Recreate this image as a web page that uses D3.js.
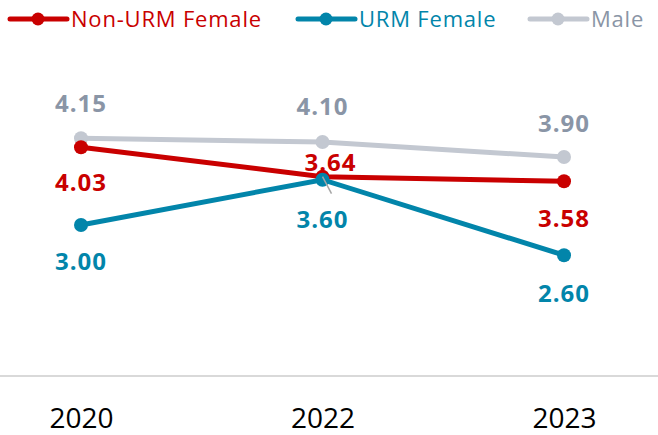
<!DOCTYPE html>
<html>
<head>
<meta charset="utf-8">
<script src="https://cdn.jsdelivr.net/npm/d3@7"></script>
<style>
  body { margin: 0; background: #fff; }
  svg { display: block; font-family: "Open Sans", sans-serif; }
</style>
</head>
<body>
<svg id="chart" width="658" height="435"></svg>
<script>
// data
var years = ["2020", "2022", "2023"];
var nonUrmFemale = [4.03, 3.64, 3.58];
var urmFemale = [3.00, 3.60, 2.60];
var male = [4.15, 4.10, 3.90];

// label offsets (px) relative to each point, per series
var series = [
  { name: "Male", values: male, line: "#c3c8d1", text: "#8a95a6", dy: [-26, -27, -25], dx: [0, 0, 0] },
  { name: "Non-URM Female", values: nonUrmFemale, line: "#c90000", text: "#c90000", dy: [44, -6, 46], dx: [0, 8, 0] },
  { name: "URM Female", values: urmFemale, line: "#0285aa", text: "#0285aa", dy: [45, 48, 47], dx: [0, 0, 0] }
];

var svg = d3.select("#chart");

var x = d3.scalePoint().domain(years).range([81, 564]);
var y = d3.scaleLinear().domain([1, 5]).range([376, 74]);

// baseline / category axis
var xAxis = d3.axisBottom(x).tickSize(0).tickPadding(0);
var ax = svg.append("g").attr("transform", "translate(0," + y(1) + ")").call(xAxis);
ax.select(".domain").remove();
ax.selectAll("text")
  .attr("y", 52)
  .attr("dy", 0)
  .attr("fill", "#000")
  .style("font-size", "28px")
  .style("font-family", "'Open Sans', sans-serif");

svg.append("line")
  .attr("x1", 0).attr("x2", 658)
  .attr("y1", y(1)).attr("y2", y(1))
  .attr("stroke", "#d9d9d9").attr("stroke-width", 2);

var line = d3.line()
  .x(function(d, i) { return x(years[i]); })
  .y(function(d) { return y(d); });

series.forEach(function(s) {
  svg.append("path")
    .datum(s.values)
    .attr("d", line)
    .attr("fill", "none")
    .attr("stroke", s.line)
    .attr("stroke-width", 5);

  svg.selectAll(null)
    .data(s.values)
    .enter().append("circle")
    .attr("cx", function(d, i) { return x(years[i]); })
    .attr("cy", function(d) { return y(d); })
    .attr("r", 7)
    .attr("fill", s.line);
});

// small leader line for the moved 3.64 label
svg.append("line")
  .attr("x1", x("2022")).attr("y1", y(3.64))
  .attr("x2", x("2022") + 9).attr("y2", y(3.64) + 17)
  .attr("stroke", "#a6a6a6").attr("stroke-width", 1.5);

// data labels
series.forEach(function(s) {
  svg.selectAll(null)
    .data(s.values)
    .enter().append("text")
    .attr("x", function(d, i) { return x(years[i]) + s.dx[i]; })
    .attr("y", function(d, i) { return y(d) + s.dy[i]; })
    .attr("text-anchor", "middle")
    .attr("fill", s.text)
    .style("font-size", "24px")
    .style("font-weight", "bold")
    .style("letter-spacing", "1px")
    .text(function(d) { return d.toFixed(2); });
});

// legend
var legendItems = [
  { name: "Non-URM Female", color: "#c90000", text: "#c90000", x: 10 },
  { name: "URM Female", color: "#0285aa", text: "#0285aa", x: 298 },
  { name: "Male", color: "#c3c8d1", text: "#8a95a6", x: 530 }
];
var lg = svg.selectAll(".legend")
  .data(legendItems)
  .enter().append("g")
  .attr("class", "legend")
  .attr("transform", function(d) { return "translate(" + d.x + ",19)"; });
lg.append("line")
  .attr("x1", 0).attr("x2", 57)
  .attr("stroke", function(d) { return d.color; })
  .attr("stroke-width", 5)
  .attr("stroke-linecap", "round");
lg.append("circle")
  .attr("cx", 28).attr("r", 6.5)
  .attr("fill", function(d) { return d.color; });
lg.append("text")
  .attr("x", 61).attr("y", 8)
  .attr("fill", function(d) { return d.text; })
  .style("font-size", "22px")
  .style("letter-spacing", "0.8px")
  .text(function(d) { return d.name; });
</script>
</body>
</html>
